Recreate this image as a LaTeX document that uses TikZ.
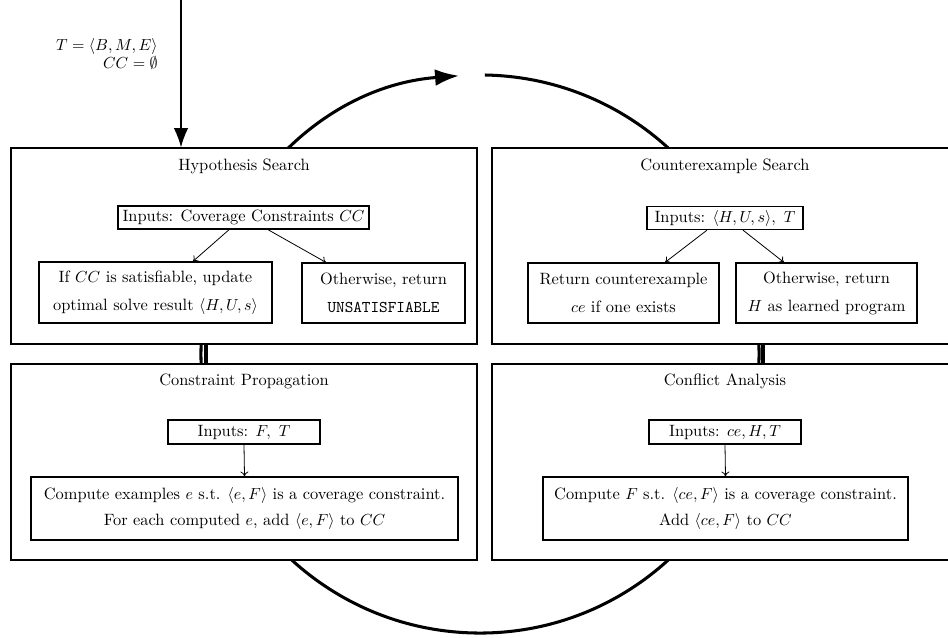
\documentclass[tikz,border=0pt]{standalone}
\usetikzlibrary{arrows.meta,calc}
\begin{document}
\begin{tikzpicture}[x=0.625pt,y=-0.625pt,
  every node/.style={font=\fontsize{10.25}{12.3}\selectfont},
  outer/.style={draw,line width=0.8pt,fill=white,minimum width=291.25pt,minimum height=122.5pt,inner sep=0pt},
  inbox/.style={draw,line width=0.8pt,fill=white,inner sep=0pt,align=center},
  ttl/.style={inner sep=0pt},
  thinarr/.style={-{To[length=3pt,width=5pt]},line width=0.5pt},
  bold/.style={line width=1.9pt},
  link/.style={line width=2.2pt}]
\useasboundingbox (0,0) rectangle (948,638);
% loop arc
\coordinate (ctr) at (480,354);
\draw[bold,-{Latex[length=15pt,width=10.5pt]}] ([shift={(89:174.4pt)}]ctr) arc[start angle=89,end angle=-265.7,radius=174.4pt];
% outer boxes
\node[outer] (HS) at (244,246) {};
\node[outer] (CS) at (725,246) {};
\node[outer] (CP) at (244,462) {};
\node[outer] (CA) at (725,462) {};
% titles
\node[ttl] (tHS) at (244,166) {Hypothesis Search};
\node[ttl] (tCS) at (725,166) {Counterexample Search};
\node[ttl] (tCP) at (244,381) {Constraint Propagation};
\node[ttl] (tCA) at (725,381) {Conflict Analysis};
% inner nodes top-left
\node[inbox,minimum width=156.9pt,minimum height=14.4pt] (in1) at (243.5,217.5) {Inputs: Coverage Constraints $CC$};
\node[inbox,minimum width=145.6pt,minimum height=38.1pt] (if1) at (155.5,292.5) {If $CC$ is satisfiable, update\\[5.3pt]optimal solve result $\langle H,U,s\rangle$};
\node[inbox,minimum width=101.9pt,minimum height=37.5pt] (ot1) at (383.5,293) {Otherwise, return\\[5.3pt]\texttt{UNSATISFIABLE}};
% inner nodes top-right
\node[inbox,minimum width=97.5pt,minimum height=14.4pt] (in2) at (725,218) {Inputs: $\langle H,U,s\rangle,\ T$};
\node[inbox,minimum width=119.4pt,minimum height=37.5pt] (ret) at (623.5,293) {Return counterexample\\[5.3pt]$ce$ if one exists};
\node[inbox,minimum width=113.1pt,minimum height=37.5pt] (ot2) at (826.5,293) {Otherwise, return\\[5.3pt]$H$ as learned program};
% inner nodes bottom-left
\node[inbox,minimum width=95pt,minimum height=15pt] (in3) at (244,432) {Inputs: $F,\ T$};
\node[inbox,minimum width=266.9pt,minimum height=39.4pt] (cmp1) at (244.5,508.5) {Compute examples $e$ s.t. $\langle e,F\rangle$ is a coverage constraint.\\[3.4pt]For each computed $e$, add $\langle e,F\rangle$ to $CC$};
% inner nodes bottom-right
\node[inbox,minimum width=95pt,minimum height=15pt] (in4) at (725,432) {Inputs: $ce, H, T$};
\node[inbox,minimum width=228.1pt,minimum height=39.4pt] (cmp2) at (725.5,508.5) {Compute $F$ s.t. $\langle ce,F\rangle$ is a coverage constraint.\\[3.4pt]Add $\langle ce,F\rangle$ to $CC$};
% inner arrows
\draw[thinarr] ([xshift=-9pt]in1.south) -- ([xshift=23.4pt]if1.north);
\draw[thinarr] ([xshift=15.3pt]in1.south) -- ([xshift=-36pt]ot1.north);
\draw[thinarr] ([xshift=-11.25pt]in2.south) -- ([xshift=26pt]ret.north);
\draw[thinarr] ([xshift=11.25pt]in2.south) -- ([xshift=-26.6pt]ot2.north);
\draw[thinarr] (in3.south) -- (cmp1.north);
\draw[thinarr] (in4.south) -- (cmp2.north);
% thick connectors
\draw[link] ([xshift=-23.75pt]HS.south) -- ([xshift=-23.75pt]CP.north);
\draw[link] ([xshift=23.75pt]CS.south) -- ([xshift=23.75pt]CA.north);
% entry arrow
\coordinate (start) at (181,0);
\draw[line width=0.8pt,-{Latex[length=12pt,width=9pt]}] (start) -- (start |- HS.north);
\node[inner sep=0pt,anchor=east,align=right] (lbl) at (158,54) {$T=\langle B,M,E\rangle$\\[-1.6pt]$CC=\emptyset$};
\end{tikzpicture}
\end{document}
